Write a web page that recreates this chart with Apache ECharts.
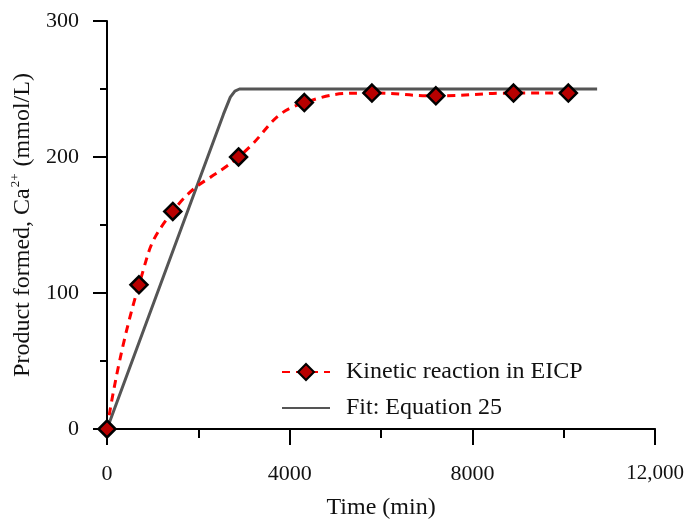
<!DOCTYPE html>
<html>
<head>
<meta charset="utf-8">
<script src="https://cdn.jsdelivr.net/npm/echarts@6/dist/echarts.min.js"></script>
<style>
html,body{margin:0;padding:0;background:#fff;}
#c{width:687px;height:525px;}
</style>
</head>
<body>
<div id="c"></div>
<script>
// Measured data (time in min, product in mmol/L)
const kineticTime = [0, 700, 1440, 2880, 4320, 5800, 7200, 8900, 10100];
const kineticCa = [0, 106, 160, 200, 240, 247, 245, 247, 247];
const fitTime = [0, 2550, 2700, 2800, 2900, 10730];
const fitCa = [0, 231.5, 244, 248.5, 250, 250];
const xTickLabels = ['0', '4000', '8000', '12,000'];
const yTickLabels = ['0', '100', '200', '300'];
const kineticName = 'Kinetic reaction in EICP';
const fitName = 'Fit: Equation 25';

const FONT = '"Liberation Serif", "Times New Roman", serif';
const chart = echarts.init(document.getElementById('c'), null, {renderer: 'canvas'});

const pair = (xs, ys) => xs.map((x, i) => [x, ys[i]]);

chart.setOption({
  animation: false,
  backgroundColor: '#ffffff',
  grid: {left: 107, right: 26, top: 21, bottom: 89},
  legend: {
    orient: 'vertical',
    left: 276,
    top: 355,
    itemWidth: 48,
    itemHeight: 20,
    itemGap: 12,
    data: [
      {name: kineticName},
      {name: fitName, itemStyle: {color: 'rgba(0,0,0,0)', borderColor: 'rgba(0,0,0,0)', borderWidth: 0}}
    ],
    textStyle: {fontFamily: FONT, fontSize: 24, color: '#111', padding: [0, 0, 0, 11]}
  },
  xAxis: {
    type: 'value',
    min: 0, max: 12000, interval: 4000,
    name: 'Time (min)',
    nameLocation: 'middle',
    nameGap: 67,
    nameTextStyle: {fontFamily: FONT, fontSize: 24, color: '#111'},
    axisLine: {show: true, onZero: false, lineStyle: {color: '#000', width: 2}},
    axisTick: {show: true, inside: false, length: 16, lineStyle: {color: '#000', width: 2}},
    minorTick: {show: true, splitNumber: 2, length: 9, lineStyle: {color: '#000', width: 2}},
    splitLine: {show: false},
    axisLabel: {
      margin: 34,
      fontFamily: FONT, fontSize: 22, color: '#111',
      formatter: (v) => {
        const i = Math.round(v / 4000);
        if (i === 3) return '{t|' + xTickLabels[i] + '}';
        return xTickLabels[i];
      },
      rich: {t: {fontFamily: FONT, fontSize: 21, color: '#111', padding: [0, 0, 8, 0]}}
    }
  },
  yAxis: {
    type: 'value',
    min: 0, max: 300, interval: 100,
    name: '{a|Product formed, Ca}{s|2+}{a| (mmol/L)}',
    nameLocation: 'middle',
    nameGap: 70,
    nameTextStyle: {
      fontFamily: FONT, fontSize: 24, color: '#111',
      rich: {
        a: {fontFamily: FONT, fontSize: 24, color: '#111', lineHeight: 28},
        s: {fontFamily: FONT, fontSize: 13, color: '#111', verticalAlign: 'top', lineHeight: 28, padding: [0, 1, 10, 1]}
      }
    },
    axisLine: {show: true, onZero: false, lineStyle: {color: '#000', width: 2}},
    axisTick: {show: true, inside: false, length: 14, lineStyle: {color: '#000', width: 2}},
    minorTick: {show: true, splitNumber: 2, length: 7, lineStyle: {color: '#000', width: 2}},
    splitLine: {show: false},
    axisLabel: {
      margin: 28,
      fontFamily: FONT, fontSize: 22, color: '#111',
      formatter: (v) => yTickLabels[Math.round(v / 100)]
    }
  },
  series: [
    {
      name: fitName,
      type: 'line',
      data: pair(fitTime, fitCa),
      showSymbol: false,
      symbol: 'none',
      smooth: false,
      lineStyle: {color: '#555555', width: 3},
      itemStyle: {color: '#555555'},
      z: 2
    },
    {
      name: kineticName,
      type: 'line',
      data: pair(kineticTime, kineticCa),
      smooth: 0.5,
      symbol: 'diamond',
      symbolSize: 17,
      lineStyle: {color: '#ff0000', width: 3, type: [8, 6]},
      itemStyle: {color: '#b80000', borderColor: '#000000', borderWidth: 2.5},
      z: 3
    }
  ]
});
</script>
</body>
</html>
